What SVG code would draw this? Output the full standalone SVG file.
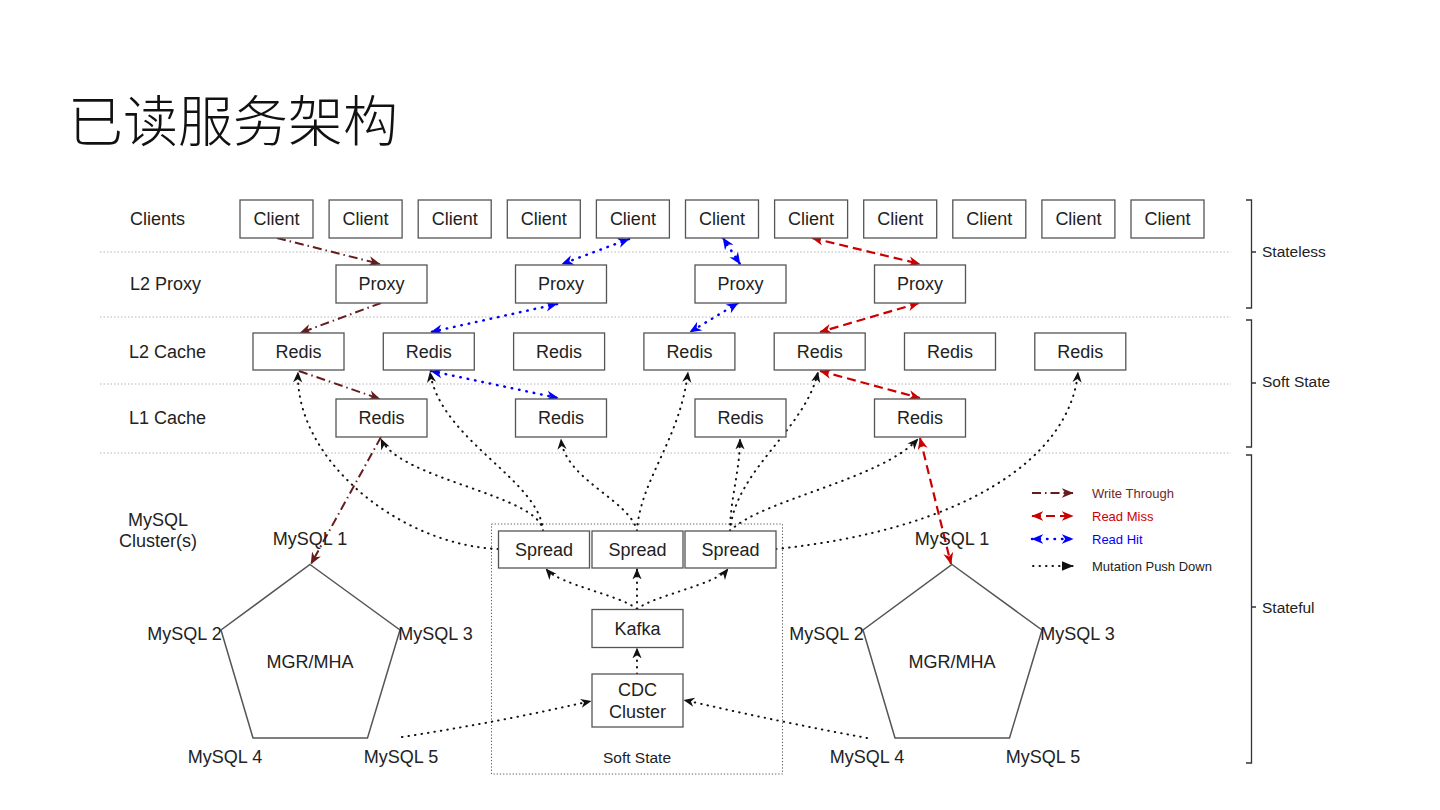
<svg xmlns="http://www.w3.org/2000/svg" width="1440" height="810" viewBox="0 0 1440 810">
<defs>
<style>
text{font-family:"Liberation Sans",Arial,sans-serif;fill:#222;}
.t18{font-size:18px;}
.c{text-anchor:middle;dominant-baseline:central;}
.l{text-anchor:start;dominant-baseline:central;}
.box{fill:#fff;stroke:#555;stroke-width:1.3;}
.sep{stroke:#b5b5b5;stroke-width:1;stroke-dasharray:1.5 2;fill:none;}
.br{stroke:#333;stroke-width:1.3;fill:none;}
.wt{stroke:#661c1c;stroke-width:2;fill:none;stroke-dasharray:9 4 1.5 4;}
.rm{stroke:#cc0000;stroke-width:2.2;fill:none;stroke-dasharray:9 5;}
.rh{stroke:#0000ff;stroke-width:2.5;fill:none;stroke-dasharray:0.5 7;stroke-linecap:round;}
.mu{stroke:#111;stroke-width:2;fill:none;stroke-dasharray:0.5 6;stroke-linecap:round;}
.poly{fill:none;stroke:#555;stroke-width:1.5;}
</style>
<marker id="aWT" viewBox="0 0 10 10" refX="9.5" refY="5" markerWidth="12" markerHeight="12" markerUnits="userSpaceOnUse" orient="auto-start-reverse"><path d="M0,0.8 L10,5 L0,9.2 L3,5 z" fill="#661c1c"/></marker>
<marker id="aRM" viewBox="0 0 10 10" refX="9.5" refY="5" markerWidth="12" markerHeight="12" markerUnits="userSpaceOnUse" orient="auto-start-reverse"><path d="M0,0.8 L10,5 L0,9.2 L3,5 z" fill="#cc0000"/></marker>
<marker id="aRH" viewBox="0 0 10 10" refX="9.5" refY="5" markerWidth="12" markerHeight="12" markerUnits="userSpaceOnUse" orient="auto-start-reverse"><path d="M0,0.8 L10,5 L0,9.2 L3,5 z" fill="#0000ff"/></marker>
<marker id="aMU" viewBox="0 0 10 10" refX="9.5" refY="5" markerWidth="11" markerHeight="11" markerUnits="userSpaceOnUse" orient="auto-start-reverse"><path d="M0,0.8 L10,5 L0,9.2 L3,5 z" fill="#111"/></marker>
<marker id="aMUL" viewBox="0 0 10 10" refX="9.5" refY="5" markerWidth="12" markerHeight="12" markerUnits="userSpaceOnUse" orient="auto"><path d="M0,1 L10,5 L0,9 z" fill="#111"/></marker>
</defs>
<rect width="1440" height="810" fill="#fff"/>

<text x="68" y="141" style="font-family:'Noto Sans CJK SC','Noto Sans CJK JP',sans-serif;font-size:55px;font-weight:300;fill:#111">已读服务架构</text>

<!-- row labels -->
<g id="row-labels">
<text class="t18 l" x="130" y="219">Clients</text>
<text class="t18 l" x="130" y="284">L2 Proxy</text>
<text class="t18 l" x="129" y="352">L2 Cache</text>
<text class="t18 l" x="129" y="418">L1 Cache</text>
<text class="t18 c" x="158" y="520">MySQL</text>
<text class="t18 c" x="158" y="541">Cluster(s)</text>
</g>

<!-- separators -->
<g id="separators">
<line class="sep" x1="100" y1="252" x2="1231" y2="252"/>
<line class="sep" x1="100" y1="317" x2="1231" y2="317"/>
<line class="sep" x1="100" y1="384" x2="1231" y2="384"/>
<line class="sep" x1="100" y1="453" x2="1231" y2="453"/>
</g>

<!-- brackets -->
<g id="tiers">
<path class="br" d="M1246,200 H1251.5 V308 H1246 M1251.5,252 H1256"/>
<text x="1262" y="251" class="l" style="font-size:15.5px">Stateless</text>
<path class="br" d="M1246,320 H1251.5 V447 H1246 M1251.5,383 H1256"/>
<text x="1262" y="381" class="l" style="font-size:15.5px">Soft State</text>
<path class="br" d="M1246,455 H1251.5 V763 H1246 M1251.5,607 H1256"/>
<text x="1262" y="607" class="l" style="font-size:15.5px">Stateful</text>
</g>

<!-- soft state container -->
<g id="soft-state-box">
<rect x="491.5" y="524" width="291" height="250" fill="none" stroke="#555" stroke-width="1" stroke-dasharray="1.2 2"/>
<text class="c" x="637" y="757" style="font-size:15.5px">Soft State</text>
</g>

<!-- connectors -->
<g id="connectors">
<!-- write through -->
<path class="wt" d="M277,238 L380,264" marker-end="url(#aWT)"/>
<path class="wt" d="M381,303 L300,333" marker-end="url(#aWT)"/>
<path class="wt" d="M299,371 L380,399" marker-end="url(#aWT)"/>
<path class="wt" d="M381,437 L311,564" marker-end="url(#aWT)"/>
<!-- read hit -->
<path class="rh" d="M629,239 L562,264" marker-start="url(#aRH)" marker-end="url(#aRH)"/>
<path class="rh" d="M557,304 L431,332" marker-start="url(#aRH)" marker-end="url(#aRH)"/>
<path class="rh" d="M431,371 L558,398" marker-start="url(#aRH)" marker-end="url(#aRH)"/>
<path class="rh" d="M723,238 L740,264" marker-start="url(#aRH)" marker-end="url(#aRH)"/>
<path class="rh" d="M738,303 L690,332" marker-start="url(#aRH)" marker-end="url(#aRH)"/>
<!-- read miss -->
<path class="rm" d="M812,238 L920,264" marker-start="url(#aRM)" marker-end="url(#aRM)"/>
<path class="rm" d="M919,303 L820,332" marker-start="url(#aRM)" marker-end="url(#aRM)"/>
<path class="rm" d="M820,371 L920,398" marker-start="url(#aRM)" marker-end="url(#aRM)"/>
<path class="rm" d="M920,438 L951,564" marker-start="url(#aRM)" marker-end="url(#aRM)"/>
<!-- mutation push down -->
<path class="mu" d="M498,549 C400,545 295,460 298,372" marker-end="url(#aMU)"/>
<path class="mu" d="M543,531 C540,495 400,480 381,439" marker-end="url(#aMU)"/>
<path class="mu" d="M543,531 C540,480 440,440 430,372" marker-end="url(#aMU)"/>
<path class="mu" d="M637,531 C630,500 565,480 561,439" marker-end="url(#aMU)"/>
<path class="mu" d="M637,531 C640,480 680,440 688,372" marker-end="url(#aMU)"/>
<path class="mu" d="M730,531 C730,500 740,470 740,439" marker-end="url(#aMU)"/>
<path class="mu" d="M730,531 C735,470 805,430 818,372" marker-end="url(#aMU)"/>
<path class="mu" d="M730,531 C760,500 880,480 918,439" marker-end="url(#aMU)"/>
<path class="mu" d="M776,549 C960,530 1070,460 1078,372" marker-end="url(#aMU)"/>
<path class="mu" d="M637,609 C620,595 560,585 546,569" marker-end="url(#aMU)"/>
<path class="mu" d="M637,609 L637,569" marker-end="url(#aMU)"/>
<path class="mu" d="M637,609 C655,595 715,585 728,569" marker-end="url(#aMU)"/>
<path class="mu" d="M637,674 L637,648" marker-end="url(#aMU)"/>
<path class="mu" d="M402,737 Q500,722 591,701" marker-end="url(#aMU)"/>
<path class="mu" d="M867,738 Q780,722 684,700" marker-end="url(#aMU)"/>
</g>

<!-- clients -->
<g id="client-1"><rect class="box" x="240" y="200" width="73" height="38"/><text class="t18 c" x="276.5" y="219">Client</text></g>
<g id="client-2"><rect class="box" x="329.1" y="200" width="73" height="38"/><text class="t18 c" x="365.6" y="219">Client</text></g>
<g id="client-3"><rect class="box" x="418.2" y="200" width="73" height="38"/><text class="t18 c" x="454.7" y="219">Client</text></g>
<g id="client-4"><rect class="box" x="507.3" y="200" width="73" height="38"/><text class="t18 c" x="543.8" y="219">Client</text></g>
<g id="client-5"><rect class="box" x="596.4" y="200" width="73" height="38"/><text class="t18 c" x="632.9" y="219">Client</text></g>
<g id="client-6"><rect class="box" x="685.5" y="200" width="73" height="38"/><text class="t18 c" x="722" y="219">Client</text></g>
<g id="client-7"><rect class="box" x="774.6" y="200" width="73" height="38"/><text class="t18 c" x="811.1" y="219">Client</text></g>
<g id="client-8"><rect class="box" x="863.7" y="200" width="73" height="38"/><text class="t18 c" x="900.2" y="219">Client</text></g>
<g id="client-9"><rect class="box" x="952.8" y="200" width="73" height="38"/><text class="t18 c" x="989.3" y="219">Client</text></g>
<g id="client-10"><rect class="box" x="1041.9" y="200" width="73" height="38"/><text class="t18 c" x="1078.4" y="219">Client</text></g>
<g id="client-11"><rect class="box" x="1131" y="200" width="73" height="38"/><text class="t18 c" x="1167.5" y="219">Client</text></g>

<!-- proxies -->
<g id="proxy-1"><rect class="box" x="336" y="265" width="91" height="38"/><text class="t18 c" x="381.5" y="284">Proxy</text></g>
<g id="proxy-2"><rect class="box" x="515.5" y="265" width="91" height="38"/><text class="t18 c" x="561" y="284">Proxy</text></g>
<g id="proxy-3"><rect class="box" x="695" y="265" width="91" height="38"/><text class="t18 c" x="740.5" y="284">Proxy</text></g>
<g id="proxy-4"><rect class="box" x="874.5" y="265" width="91" height="38"/><text class="t18 c" x="920" y="284">Proxy</text></g>

<!-- L2 cache -->
<g id="l2-redis-1"><rect class="box" x="253" y="333" width="91" height="37"/><text class="t18 c" x="298.5" y="352">Redis</text></g>
<g id="l2-redis-2"><rect class="box" x="383.3" y="333" width="91" height="37"/><text class="t18 c" x="428.8" y="352">Redis</text></g>
<g id="l2-redis-3"><rect class="box" x="513.6" y="333" width="91" height="37"/><text class="t18 c" x="559.1" y="352">Redis</text></g>
<g id="l2-redis-4"><rect class="box" x="643.9" y="333" width="91" height="37"/><text class="t18 c" x="689.4" y="352">Redis</text></g>
<g id="l2-redis-5"><rect class="box" x="774.2" y="333" width="91" height="37"/><text class="t18 c" x="819.7" y="352">Redis</text></g>
<g id="l2-redis-6"><rect class="box" x="904.5" y="333" width="91" height="37"/><text class="t18 c" x="950" y="352">Redis</text></g>
<g id="l2-redis-7"><rect class="box" x="1034.8" y="333" width="91" height="37"/><text class="t18 c" x="1080.3" y="352">Redis</text></g>

<!-- L1 cache -->
<g id="l1-redis-1"><rect class="box" x="336" y="399" width="91" height="38"/><text class="t18 c" x="381.5" y="418">Redis</text></g>
<g id="l1-redis-2"><rect class="box" x="515.5" y="399" width="91" height="38"/><text class="t18 c" x="561" y="418">Redis</text></g>
<g id="l1-redis-3"><rect class="box" x="695" y="399" width="91" height="38"/><text class="t18 c" x="740.5" y="418">Redis</text></g>
<g id="l1-redis-4"><rect class="box" x="874.5" y="399" width="91" height="38"/><text class="t18 c" x="920" y="418">Redis</text></g>

<!-- soft state pipeline -->
<g id="spread-1"><rect class="box" x="498.5" y="531" width="91" height="37"/><text class="t18 c" x="544" y="550">Spread</text></g>
<g id="spread-2"><rect class="box" x="592" y="531" width="91" height="37"/><text class="t18 c" x="637.5" y="550">Spread</text></g>
<g id="spread-3"><rect class="box" x="685" y="531" width="91" height="37"/><text class="t18 c" x="730.5" y="550">Spread</text></g>
<g id="kafka"><rect class="box" x="592" y="609.5" width="91" height="38"/><text class="t18 c" x="637.5" y="629">Kafka</text></g>
<g id="cdc-cluster"><rect class="box" x="592" y="674" width="91" height="53"/><text class="t18 c" x="637.5" y="690">CDC</text><text class="t18 c" x="637.5" y="712">Cluster</text></g>

<!-- MySQL clusters -->
<g id="mysql-cluster-left">
<polygon class="poly" points="310,564.5 400,630 367.5,738 253,738 221,630"/>
<text class="t18 c" x="310" y="662">MGR/MHA</text>
<text class="t18 c" x="310" y="539">MySQL 1</text>
<text class="t18 c" x="184.5" y="634">MySQL 2</text>
<text class="t18 c" x="435.5" y="634">MySQL 3</text>
<text class="t18 c" x="225" y="757">MySQL 4</text>
<text class="t18 c" x="401" y="757">MySQL 5</text>
</g>
<g id="mysql-cluster-right">
<polygon class="poly" points="952,564.5 1042,630 1009.5,738 895,738 863,630"/>
<text class="t18 c" x="952" y="662">MGR/MHA</text>
<text class="t18 c" x="952" y="539">MySQL 1</text>
<text class="t18 c" x="826.5" y="634">MySQL 2</text>
<text class="t18 c" x="1077.5" y="634">MySQL 3</text>
<text class="t18 c" x="867" y="757">MySQL 4</text>
<text class="t18 c" x="1043" y="757">MySQL 5</text>
</g>

<!-- legend -->
<g id="legend">
<path class="wt" d="M1032,493 L1073,493" marker-end="url(#aWT)"/>
<text class="l" x="1092" y="493" style="font-size:13px;fill:#6e2a2a">Write Through</text>
<path class="rm" d="M1032,516 L1073,516" marker-start="url(#aRM)" marker-end="url(#aRM)"/>
<text class="l" x="1092" y="516" style="font-size:13px;fill:#cc0000">Read Miss</text>
<path class="rh" d="M1032,539 L1073,539" marker-start="url(#aRH)" marker-end="url(#aRH)"/>
<text class="l" x="1092" y="539" style="font-size:13px;fill:#0000ff">Read Hit</text>
<path class="mu" d="M1033,566 L1073,566" marker-end="url(#aMUL)"/>
<text class="l" x="1092" y="566" style="font-size:13px">Mutation Push Down</text>
</g>
</svg>
